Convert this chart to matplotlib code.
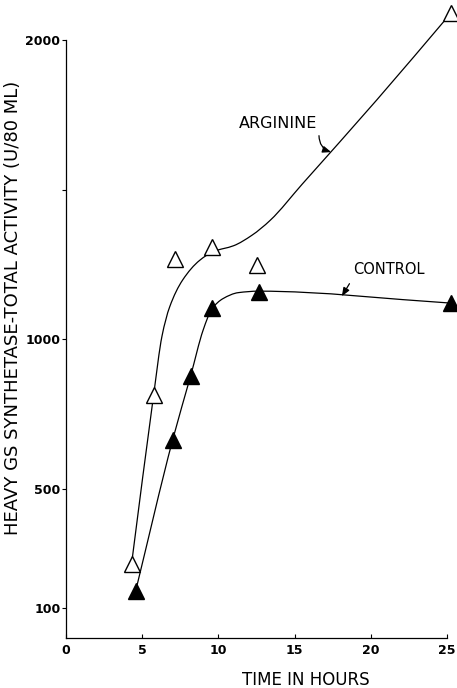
import matplotlib
matplotlib.use("Agg")
import matplotlib.pyplot as plt
from matplotlib.path import Path
from matplotlib.patches import PathPatch

# ---- data ----
arg_t = [4.3, 5.75, 7.13, 9.56, 12.5, 25.26]
arg_v = [247, 813, 1267, 1307, 1247, 2090]
ctl_t = [4.57, 7.0, 8.18, 9.57, 12.65, 25.26]
ctl_v = [157, 663, 877, 1103, 1157, 1120]

# hand-drawn fitted curves (knots)
arg_curve_t = [4.3, 5.75, 6.3, 6.8, 7.65, 8.77, 9.7, 11.0, 12.2, 13.4, 15.5, 20.4, 25.26]
arg_curve_v = [247, 813, 1010, 1107, 1197, 1263, 1293, 1312, 1347, 1397, 1518, 1800, 2090]
ctl_curve_t = [4.57, 7.0, 8.18, 9.0, 9.57, 10.3, 11.3, 12.65, 25.26]
ctl_curve_v = [157, 663, 877, 1030, 1100, 1135, 1155, 1160, 1120]

xticks = [0, 5, 10, 15, 20, 25]
xticklabels = ["0", "5", "10", "15", "20", "25"]
yticks = [100, 500, 1000, 1500, 2000]
yticklabels = ["100", "500", "1000", "", "2000"]

LETTER = ["DejaVu Sans"]


def pchip_path(xs, ys):
    n = len(xs)
    h = [xs[i + 1] - xs[i] for i in range(n - 1)]
    d = [(ys[i + 1] - ys[i]) / h[i] for i in range(n - 1)]
    m = [0.0] * n
    m[0] = d[0]
    m[-1] = d[-1]
    for i in range(1, n - 1):
        if d[i - 1] * d[i] <= 0:
            m[i] = 0.0
        else:
            w1 = 2 * h[i] + h[i - 1]
            w2 = h[i] + 2 * h[i - 1]
            m[i] = (w1 + w2) / (w1 / d[i - 1] + w2 / d[i])
    verts = [(xs[0], ys[0])]
    codes = [Path.MOVETO]
    for i in range(n - 1):
        c1 = (xs[i] + h[i] / 3, ys[i] + m[i] * h[i] / 3)
        c2 = (xs[i + 1] - h[i] / 3, ys[i + 1] - m[i + 1] * h[i] / 3)
        verts += [c1, c2, (xs[i + 1], ys[i + 1])]
        codes += [Path.CURVE4] * 3
    return Path(verts, codes)


fig = plt.figure(figsize=(4.57, 6.88), dpi=100)
ax = fig.add_axes([66 / 457, 1 - 638 / 688, (447 - 66) / 457, (638 - 40) / 688])
ax.set_xlim(0, 25)
ax.set_ylim(0, 2000)

for s in ["top", "right"]:
    ax.spines[s].set_visible(False)
for s in ["left", "bottom"]:
    ax.spines[s].set_linewidth(0.9)

for xs, ys in [(arg_curve_t, arg_curve_v), (ctl_curve_t, ctl_curve_v)]:
    ax.add_patch(PathPatch(pchip_path(xs, ys), fill=False, lw=0.9,
                           edgecolor="black", clip_on=False, zorder=2))

ax.plot(arg_t, arg_v, linestyle="none", marker="^", markersize=11,
        markerfacecolor="white", markeredgecolor="black", markeredgewidth=1.0,
        clip_on=False, zorder=3)
ax.plot(ctl_t, ctl_v, linestyle="none", marker="^", markersize=11,
        markerfacecolor="black", markeredgecolor="black", markeredgewidth=1.0,
        clip_on=False, zorder=3)

ax.set_xticks(xticks)
ax.set_xticklabels(xticklabels)
ax.set_yticks(yticks)
ax.set_yticklabels(yticklabels)
ax.tick_params(axis="x", direction="in", length=3, width=0.8, pad=4,
               labelsize=9)
ax.tick_params(axis="y", direction="out", length=3, width=0.8, pad=1,
               labelsize=9)
for lab in ax.get_xticklabels() + ax.get_yticklabels():
    lab.set_fontweight("bold")

ax.set_ylabel("HEAVY GS SYNTHETASE-TOTAL ACTIVITY (U/80 ML)",
              family=LETTER, fontsize=13)
ax.yaxis.set_label_coords(-0.115, 0.552)
ax.set_xlabel("TIME IN HOURS", family=LETTER, fontsize=12)
ax.xaxis.set_label_coords(0.63, -0.055)

ax.text(13.9, 1722, "ARGININE", family=LETTER, fontsize=11.5,
        ha="center", va="center")
ax.annotate("", xy=(17.4, 1625), xytext=(16.6, 1680),
            arrowprops=dict(arrowstyle="-|>,head_length=0.5,head_width=0.2",
                            connectionstyle="arc3,rad=0.35", lw=0.9,
                            color="black", shrinkA=0, shrinkB=0))
ax.text(21.2, 1232, "CONTROL", family=LETTER, fontsize=10.5,
        ha="center", va="center")
ax.annotate("", xy=(18.1, 1143), xytext=(18.6, 1185),
            arrowprops=dict(arrowstyle="-|>,head_length=0.5,head_width=0.2",
                            connectionstyle="arc3,rad=0.0", lw=0.9,
                            color="black", shrinkA=0, shrinkB=0))

fig.savefig("out.png", dpi=100)
